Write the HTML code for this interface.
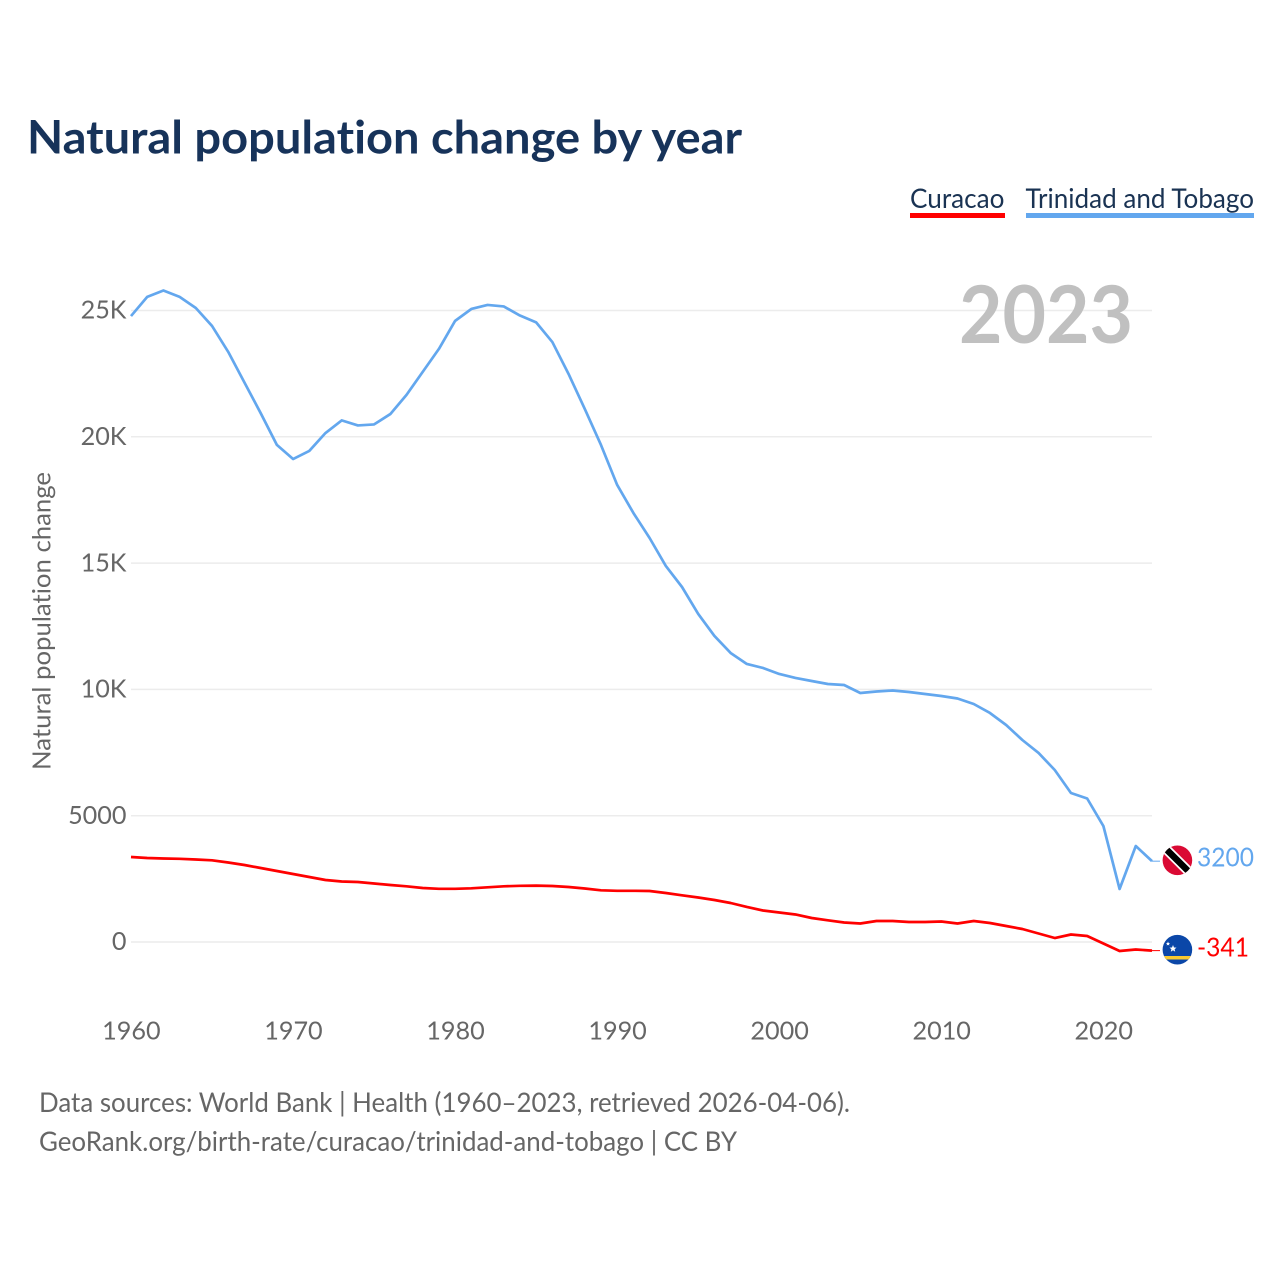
<!DOCTYPE html>
<html>
<head>
<meta charset="utf-8">
<title>Natural population change by year</title>
<style>
html,body{margin:0;padding:0;background:#fff;}
svg{display:block;}
text{font-family:"Lato","Carlito","Liberation Sans",sans-serif;font-variant-ligatures:none;}
</style>
</head>
<body>
<svg id="chart" xmlns="http://www.w3.org/2000/svg" width="1280" height="1280" viewBox="0 0 1280 1280">
  <rect x="0" y="0" width="1280" height="1280" fill="#ffffff"/>
  <text x="27" y="153.5" font-size="46" font-weight="700" fill="#17335a" textLength="715" lengthAdjust="spacingAndGlyphs">Natural population change by year</text>

  <g>
    <text x="910" y="208" font-size="27" fill="#1a3353" textLength="94.5" lengthAdjust="spacingAndGlyphs">Curacao</text>
    <rect x="910" y="213" width="95" height="5" fill="#ff0000"/>
  </g>
  <g>
    <text x="1025.5" y="208" font-size="27" fill="#1a3353" textLength="228.5" lengthAdjust="spacingAndGlyphs">Trinidad and Tobago</text>
    <rect x="1026" y="213" width="228" height="5" fill="#63a7ee"/>
  </g>

  <g id="grid"></g>
  <g id="yticks"></g>
  <g id="xticks"></g>

  <text transform="translate(50.5,621) rotate(-90)" text-anchor="middle" font-size="25" fill="#666666" textLength="298" lengthAdjust="spacingAndGlyphs">Natural population change</text>

  <text id="year-label" x="959" y="343" font-size="80" font-weight="700" fill="#c0c0c0" textLength="174" lengthAdjust="spacingAndGlyphs">2023</text>

  <g id="series"></g>

  <defs>
    <clipPath id="clip-tt"><circle cx="1177.4" cy="860.3" r="14.8"/></clipPath>
    <clipPath id="clip-cw"><circle cx="1177.4" cy="949.7" r="14.8"/></clipPath>
  </defs>

  <g id="flag-tt" clip-path="url(#clip-tt)">
    <rect x="1162" y="845" width="31" height="31" fill="#da0a34"/>
    <line x1="1162" y1="845" x2="1192.8" y2="875.6" stroke="#ffffff" stroke-width="10"/>
    <line x1="1162" y1="845" x2="1192.8" y2="875.6" stroke="#000000" stroke-width="6.5"/>
  </g>
  <g id="flag-cw" clip-path="url(#clip-cw)">
    <rect x="1162" y="934" width="31" height="32" fill="#0b47a8"/>
    <rect x="1162" y="956" width="31" height="3.5" fill="#f9c930"/>
    <polygon points="1173,945 1174,947.5 1176.5,947.6 1174.6,949.2 1175.2,951.7 1173,950.3 1170.8,951.7 1171.4,949.2 1169.5,947.6 1172,947.5" fill="#ffffff"/>
    <polygon points="1168,941.5 1168.6,943 1170,943.1 1169,944 1169.3,945.5 1168,944.7 1166.7,945.5 1167,944 1166,943.1 1167.4,943" fill="#ffffff"/>
  </g>

  <text id="value-tt" x="1197" y="866.5" font-size="26" fill="#63a7ee" textLength="57" lengthAdjust="spacingAndGlyphs">3200</text>
  <text id="value-cw" x="1197" y="956.5" font-size="26" fill="#ff0000" textLength="52" lengthAdjust="spacingAndGlyphs">-341</text>

  <text x="39" y="1112" font-size="27" fill="#666666" textLength="811" lengthAdjust="spacingAndGlyphs">Data sources: World Bank | Health (1960–2023, retrieved 2026-04-06).</text>
  <text x="39" y="1151" font-size="27" fill="#666666" textLength="698" lengthAdjust="spacingAndGlyphs">GeoRank.org/birth-rate/curacao/trinidad-and-tobago | CC BY</text>
</svg>
<script>
const firstYear = 1960;
const curacaoValues = [3365,3326,3306,3294,3266,3234,3147,3048,2930,2811,2692,2573,2455,2395,2375,2316,2257,2205,2138,2106,2106,2126,2166,2205,2225,2233,2217,2177,2118,2047,2027,2027,2019,1940,1849,1762,1663,1544,1386,1247,1168,1089,950,859,772,732,831,831,792,792,812,732,831,752,633,515,337,158,297,238,-59,-356,-297,-341];
const trinidadValues = [24780,25540,25790,25540,25100,24390,23360,22150,20940,19680,19120,19440,20150,20650,20450,20490,20900,21660,22570,23480,24590,25060,25220,25160,24800,24530,23750,22487,21101,19676,18093,16984,15994,14886,14054,12986,12115,11442,11006,10848,10610,10452,10333,10214,10175,9858,9917,9957,9898,9818,9739,9640,9422,9066,8591,7997,7483,6809,5899,5681,4592,2098,3801,3200];
const yTickValues = [0,5000,10000,15000,20000,25000];
const yTickLabels = ["0","5000","10K","15K","20K","25K"];
const xTickValues = [1960,1970,1980,1990,2000,2010,2020];
const xTickLabels = ["1960","1970","1980","1990","2000","2010","2020"];

const SVG_NS = "http://www.w3.org/2000/svg";
function xScale(year){ return 131 + (year - 1960) * (1021 / 63); }
function yScale(value){ return 942 - value * (631.5 / 25000); }

const gridGroup = document.getElementById("grid");
const yGroup = document.getElementById("yticks");
const xGroup = document.getElementById("xticks");
const seriesGroup = document.getElementById("series");

yTickValues.forEach(function(v, i){
  const line = document.createElementNS(SVG_NS, "line");
  
  
  line.setAttribute("x1", xScale(1960));
  line.setAttribute("x2", xScale(2023));
  line.setAttribute("y1", yScale(v));
  line.setAttribute("y2", yScale(v));
  line.setAttribute("stroke", "#ececec");
  line.setAttribute("stroke-width", "1.5");
  gridGroup.appendChild(line);

  const label = document.createElementNS(SVG_NS, "text");
  
  
  label.setAttribute("x", 126.5);
  label.setAttribute("y", yScale(v) + 8.2);
  label.setAttribute("text-anchor", "end");
  label.setAttribute("font-size", "25.2");
  label.setAttribute("fill", "#666666");
  label.textContent = yTickLabels[i];
  yGroup.appendChild(label);
});

xTickValues.forEach(function(y, i){
  const label = document.createElementNS(SVG_NS, "text");
  
  
  label.setAttribute("x", xScale(y) + 0.4);
  label.setAttribute("y", 1039.5);
  label.setAttribute("text-anchor", "middle");
  label.setAttribute("font-size", "25.2");
  label.setAttribute("fill", "#666666");
  label.textContent = xTickLabels[i];
  xGroup.appendChild(label);
});

function buildPath(values){
  return values.map(function(v, i){
    return (i === 0 ? "M" : "L") + xScale(firstYear + i).toFixed(2) + " " + yScale(v).toFixed(2);
  }).join(" ");
}

function leaderEnd(values){
  const lastIndex = values.length - 1;
  const y = yScale(values[lastIndex]).toFixed(2);
  const x = xScale(firstYear + lastIndex).toFixed(2);
  return "M" + x + " " + y + " L" + (parseFloat(x) + 8) + " " + y;
}

const trinidadLine = document.createElementNS(SVG_NS, "path");


trinidadLine.setAttribute("d", buildPath(trinidadValues));
trinidadLine.setAttribute("fill", "none");
trinidadLine.setAttribute("stroke", "#63a7ee");
trinidadLine.setAttribute("stroke-width", "2.7");
trinidadLine.setAttribute("stroke-linejoin", "round");
seriesGroup.appendChild(trinidadLine);

const curacaoLine = document.createElementNS(SVG_NS, "path");


curacaoLine.setAttribute("d", buildPath(curacaoValues));
curacaoLine.setAttribute("fill", "none");
curacaoLine.setAttribute("stroke", "#ff0000");
curacaoLine.setAttribute("stroke-width", "2.7");
curacaoLine.setAttribute("stroke-linejoin", "round");
seriesGroup.appendChild(curacaoLine);

const trinidadLeader = document.createElementNS(SVG_NS, "path");


trinidadLeader.setAttribute("d", leaderEnd(trinidadValues));
trinidadLeader.setAttribute("stroke", "#63a7ee");
trinidadLeader.setAttribute("stroke-width", "1");
seriesGroup.appendChild(trinidadLeader);

const curacaoLeader = document.createElementNS(SVG_NS, "path");


curacaoLeader.setAttribute("d", leaderEnd(curacaoValues));
curacaoLeader.setAttribute("stroke", "#ff0000");
curacaoLeader.setAttribute("stroke-width", "1");
seriesGroup.appendChild(curacaoLeader);
</script>
</body>
</html>
